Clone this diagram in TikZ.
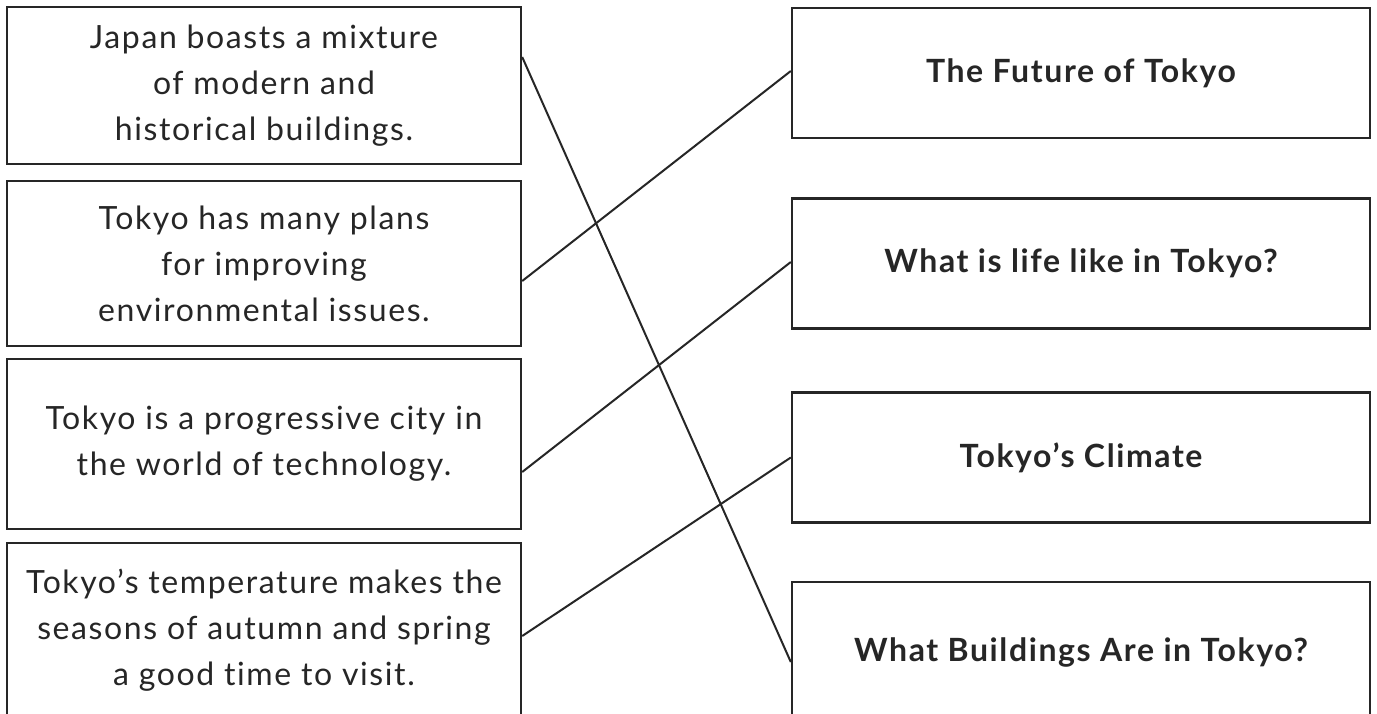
\documentclass[tikz,border=0pt]{standalone}
\usepackage{fontspec}
\setmainfont{Lato}
\newfontfamily\cardfont[LetterSpace=5, Ligatures=NoCommon]{Lato}
\usetikzlibrary{positioning}
\definecolor{ink}{HTML}{262626}

\begin{document}
\begin{tikzpicture}[x=0.5pt, y=-0.5pt,
  card/.style={draw=ink, line width=1.2pt, inner sep=0pt, align=center, text=ink},
  leftcard/.style={card, minimum width=257pt, font=\cardfont\fontsize{16}{23}\selectfont},
  rightcard/.style={card, minimum width=289pt, minimum height=65pt, font=\cardfont\bfseries\fontsize{16}{23}\selectfont},
  link/.style={ink, line width=1pt}]
\useasboundingbox (0,0) rectangle (1377,713);
\fill[white] (0,0) rectangle (1377,713);
% statements
\node[leftcard, minimum height=78.5pt] (l1) at (264,85.5) {Japan boasts a mixture\\of modern and\\historical buildings.};
\node[leftcard, minimum height=82.5pt] (l2) at (264,263.5) {Tokyo has many plans\\for improving\\environmental issues.};
\node[leftcard, minimum height=85pt] (l3) at (264,444) {Tokyo is a progressive city in\\the world of technology.};
\node[leftcard, minimum height=87pt] (l4) at (264,630) {Tokyo’s temperature makes the\\seasons of autumn and spring\\a good time to visit.};
% headings
\node[rightcard] (r1) at (1081,73) {The Future of Tokyo};
\node[rightcard] (r2) at (1081,263.5) {What is life like in Tokyo?};
\node[rightcard] (r3) at (1081,457.5) {Tokyo’s Climate};
\node[rightcard, minimum height=70pt] (r4) at (1081,652) {What Buildings Are in Tokyo?};
% matching lines
\foreach \a/\b/\sa/\sb in {l1/r4/14.25/-5, l2/r1/-8.75/1, l3/r2/-14/0.75, l4/r3/-3/0} {
  \draw[link] ([yshift=\sa pt]\a.east) -- ([yshift=\sb pt]\b.west);
}
\end{tikzpicture}
\end{document}
